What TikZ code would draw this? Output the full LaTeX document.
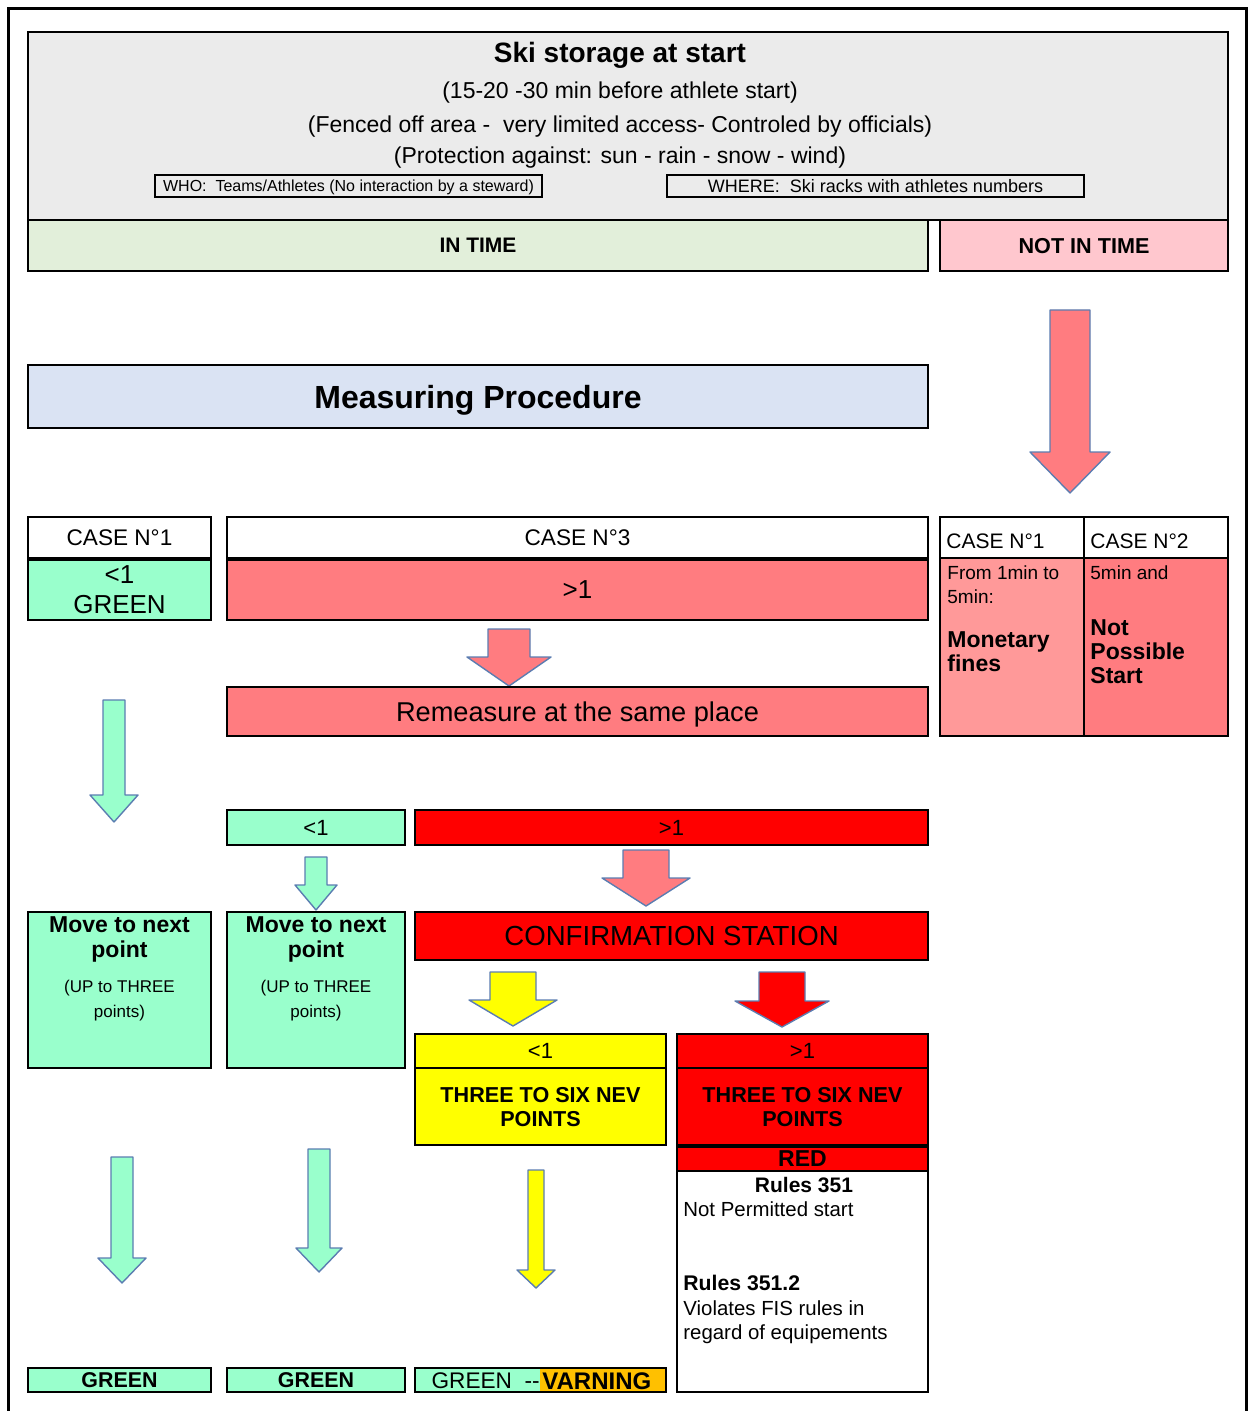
\documentclass[tikz,border=0pt]{standalone}
\usepackage{fontspec}
\setmainfont{Liberation Sans}
\usetikzlibrary{fit}

\definecolor{hdrgray}{HTML}{EBEBEB}
\definecolor{intimegreen}{HTML}{E2EFDA}
\definecolor{latepink}{HTML}{FFC7CE}
\definecolor{measureblue}{HTML}{DAE3F3}
\definecolor{mint}{HTML}{99FFCC}
\definecolor{salmon}{HTML}{FF7C80}
\definecolor{lightsalmon}{HTML}{FF9999}
\definecolor{alertred}{HTML}{FF0000}
\definecolor{warnyellow}{HTML}{FFFF00}
\definecolor{amber}{HTML}{FFC000}
\definecolor{arrowline}{HTML}{5B7DB1}

% block arrow pointing down: fill, x, y top, y tip, half shaft, half head, head length
\newcommand{\dnarrow}[7]{%
  \filldraw[fill=#1, draw=arrowline, line width=0.7pt, line join=round]
    (#2-#5,#3) -- (#2+#5,#3) -- (#2+#5,#4-#7) -- (#2+#6,#4-#7) -- (#2,#4)
    -- (#2-#6,#4-#7) -- (#2-#5,#4-#7) -- cycle;}

% framed cell: name, corner, corner, fill, text options, text
\newcommand{\cell}[6]{%
  \node[box, fill=#4, fit={(#2) (#3)}] (#1) {};
  \node[lbl, #5] (#1txt) at (#1.center) {#6};}

\newcommand{\fsz}[1]{\fontsize{#1}{#1}\selectfont}
\newcommand{\upfont}{\fontsize{8.5}{12.5}\selectfont}
\newcommand{\movetext}{\textbf{Move to next}\\\textbf{point}\\[5pt]\upfont (UP to THREE\\\upfont points)}

\tikzset{
  box/.style={draw, line width=1.4pt, inner sep=0pt},
  thinbox/.style={draw, line width=0.8pt, inner sep=0pt},
  lbl/.style={inner sep=0pt, align=center, text depth=0pt},
  txt/.style={inner sep=0pt, font=\fontsize{11.5}{12}\selectfont},
  celltxt/.style={inner sep=0pt, align=left, font=\fontsize{9.5}{12}\selectfont},
  movetxt/.style={anchor=north, align=center, inner sep=0pt, yshift=-3pt, font=\fontsize{11.5}{12.5}\selectfont},
}

\begin{document}
\begin{tikzpicture}[x=0.5pt, y=-0.5pt]
\useasboundingbox (0,0) rectangle (1253,1411);
\draw[line width=1.5pt] (8,1430) -- (8,9) -- (1246,9) -- (1246,1430);

% header
\node[box, fill=hdrgray, fit={(28,32) (1228,220)}] (storage) {};
\node[inner sep=0pt, font=\bfseries\fsz{14}] (title) at (620,55) {Ski storage at start};
\node[txt] (when) at (620,93) {(15-20 -30 min before athlete start)};
\node[txt] (fence) at (620,127) {(Fenced off area -\ \ very limited access- Controled by officials)};
\node[txt] (protect) at (620,158) {(Protection against: sun - rain - snow - wind)};
\node[thinbox, fit={(155,175) (542,197)}] (who) {};
\node[lbl, font=\fsz{8}] (whotxt) at (who.center) {WHO:\ \ Teams/Athletes (No interaction by a steward)};
\node[thinbox, fit={(667,175) (1084,197)}] (where) {};
\node[lbl, font=\fsz{9}] (wheretxt) at (where.center) {WHERE:\ \ Ski racks with athletes numbers};
\cell{intime}{28,220}{928,271}{intimegreen}{font=\bfseries\fsz{10.5}}{IN TIME}
\cell{late}{940,220}{1228,271}{latepink}{font=\bfseries\fsz{10.8}}{NOT IN TIME}

\cell{measure}{28,365}{928,428}{measureblue}{font=\bfseries\fsz{16}}{Measuring Procedure}

\dnarrow{salmon}{1070}{310}{493}{20}{40}{41}

% not in time cases
\node[box, fill=white, fit={(940,517) (1084,558)}] (lateAhead) {};
\node[box, fill=white, fit={(1084,517) (1228,558)}] (lateBhead) {};
\node[box, fill=lightsalmon, fit={(940,558) (1084,736)}] (lateA) {};
\node[box, fill=salmon, fit={(1084,558) (1228,736)}] (lateB) {};
\node[anchor=west, inner sep=0pt, font=\fsz{10.5}] (lateAtitle) at (946,541) {CASE N°1};
\node[anchor=west, inner sep=0pt, font=\fsz{10.5}] (lateBtitle) at (1090,541) {CASE N°2};
\node[celltxt, anchor=north west] (fines) at (947,565)
  {From 1min to\\5min:\\[10pt]\fontsize{11.5}{12}\bfseries Monetary\\\fontsize{11.5}{12}\bfseries fines};
\node[celltxt, anchor=north west] (nostart) at (1090,565)
  {5min and\\[16pt]\fontsize{11.5}{12}\bfseries Not\\\fontsize{11.5}{12}\bfseries Possible\\\fontsize{11.5}{12}\bfseries Start};

% in time cases
\cell{caseA}{28,517}{211,558}{white}{font=\fsz{11.3}}{CASE N°1}
\cell{caseAval}{28,560}{211,620}{mint}{font=\fontsize{13}{15}\selectfont}{<1\\GREEN}
\cell{caseC}{227,517}{928,558}{white}{font=\fsz{11.3}}{CASE N°3}
\cell{caseCval}{227,560}{928,620}{salmon}{font=\fsz{13}}{>1}

\dnarrow{salmon}{509}{629}{686}{21}{42}{29}
\cell{remeasure}{227,687}{928,736}{salmon}{font=\fsz{13.6}}{Remeasure at the same place}

\dnarrow{mint}{114}{700}{822}{11}{24}{27}

\cell{less}{227,810}{405,845}{mint}{font=\fsz{11}}{<1}
\cell{more}{415,810}{928,845}{alertred}{font=\fsz{11}}{>1}

\dnarrow{mint}{316}{857}{910}{11}{21}{25}
\dnarrow{salmon}{646}{850}{906}{23}{44}{28}

\node[box, fill=mint, fit={(28,912) (211,1068)}] (moveA) {};
\node[box, fill=mint, fit={(227,912) (405,1068)}] (moveB) {};
\node[movetxt] (moveAtxt) at (moveA.north) {\movetext};
\node[movetxt] (moveBtxt) at (moveB.north) {\movetext};

\cell{confirm}{415,912}{928,960}{alertred}{font=\fsz{13.8}}{CONFIRMATION STATION}

\dnarrow{warnyellow}{513}{972}{1026}{23}{44}{26}
\dnarrow{alertred}{782}{972}{1027}{23}{47}{26}

\cell{yless}{415,1034}{666,1068}{warnyellow}{font=\fsz{11}}{<1}
\cell{ynew}{415,1068}{666,1145}{warnyellow}{font=\bfseries\fontsize{10.8}{12}\selectfont}{THREE TO SIX NEV\\POINTS}
\cell{rmore}{677,1034}{928,1068}{alertred}{font=\fsz{11}}{>1}
\cell{rnew}{677,1068}{928,1145}{alertred}{font=\bfseries\fontsize{10.8}{12}\selectfont}{THREE TO SIX NEV\\POINTS}
\cell{redtag}{677,1147}{928,1171}{alertred}{font=\bfseries\fsz{11.5}}{RED}
\node[box, fill=white, fit={(677,1171) (928,1392)}] (rules) {};
\node[inner sep=0pt, font=\bfseries\fsz{10.5}] (r351) at (804,1185) {Rules 351};
\node[celltxt, anchor=west, font=\fsz{10.2}] (notperm) at (683,1209) {Not Permitted start};
\node[celltxt, anchor=north west, font=\fontsize{10.2}{12.3}\selectfont] (r3512) at (683,1275)
  {\fontsize{10.6}{12.3}\bfseries Rules 351.2\\Violates FIS rules in\\regard of equipements};

\dnarrow{mint}{122}{1157}{1283}{11}{24}{25}
\dnarrow{mint}{319}{1149}{1272}{11}{23}{24}
\dnarrow{warnyellow}{536}{1170}{1288}{8}{19}{18}

% results
\cell{greenA}{28,1368}{211,1392}{mint}{font=\bfseries\fsz{10.7}}{GREEN}
\cell{greenB}{227,1368}{405,1392}{mint}{font=\bfseries\fsz{10.7}}{GREEN}
\fill[mint] (415,1368) rectangle (540,1392);
\fill[amber] (540,1368) rectangle (666,1392);
\node[box, fit={(415,1368) (666,1392)}] (greenwarn) {};
\node[anchor=east, inner sep=0pt, font=\fsz{11.3}] (gwleft) at (540,1381) {GREEN\ \ -{}-};
\node[anchor=west, inner sep=0pt, xshift=1pt, font=\bfseries\fsz{12}] (gwright) at (540,1381) {VARNING};
\end{tikzpicture}
\end{document}
